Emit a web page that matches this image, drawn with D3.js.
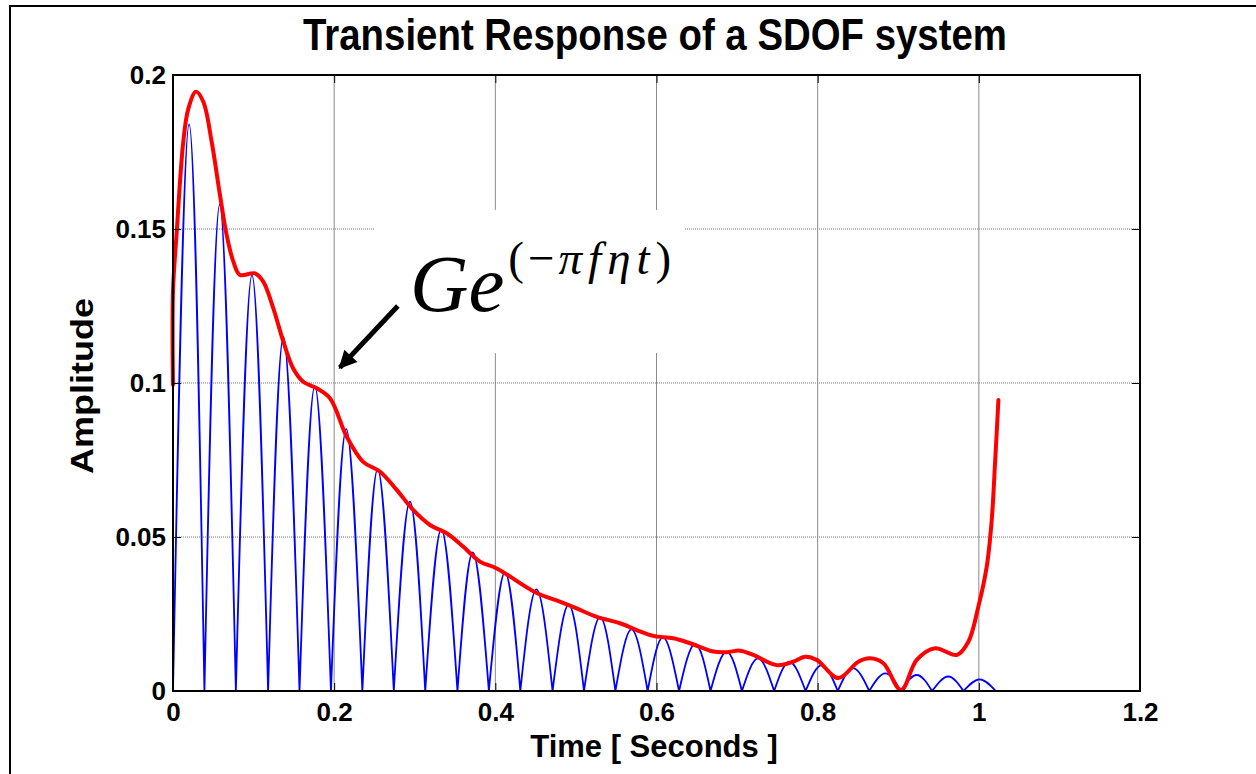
<!DOCTYPE html>
<html>
<head>
<meta charset="utf-8">
<script src="https://cdn.jsdelivr.net/npm/d3@7"></script>
<style>
  body { margin: 0; background: #fff; }
  svg { display: block; }
  .tick text { font-family: "Liberation Sans", Arial, sans-serif; font-weight: bold; font-size: 26px; fill: #000; }
</style>
</head>
<body>
<div id="chart"></div>
<script>
// values

// x / y axis ticks
var xTicks = [0, 0.2, 0.4, 0.6, 0.8, 1, 1.2];
var xTickLabels = ["0", "0.2", "0.4", "0.6", "0.8", "1", "1.2"];
var yTicks = [0, 0.05, 0.1, 0.15, 0.2];
var yTickLabels = ["0", "0.05", "0.1", "0.15", "0.2"];

// blue rectified response: zero crossings, lobe peak times and peak amplitudes
var blueZeros = [0, 0.039, 0.078, 0.118, 0.157, 0.196, 0.235, 0.274, 0.313, 0.353, 0.392, 0.431, 0.471,
                 0.510, 0.549, 0.589, 0.628, 0.667, 0.706, 0.746, 0.785, 0.825, 0.864, 0.903, 0.942, 0.981, 1.021];
var bluePeakT = [0.020, 0.058, 0.098, 0.137, 0.176, 0.215, 0.254, 0.294, 0.333, 0.372, 0.412, 0.451, 0.491,
                 0.530, 0.569, 0.608, 0.648, 0.687, 0.726, 0.765, 0.805, 0.844, 0.884, 0.923, 0.962, 1.001];
var bluePeakA = [0.184, 0.158, 0.135, 0.115, 0.099, 0.085, 0.072, 0.0615, 0.0525, 0.045, 0.0385, 0.033, 0.028,
                 0.024, 0.020, 0.0174, 0.0153, 0.0128, 0.0106, 0.0095, 0.0084, 0.0074, 0.0057, 0.0052, 0.0047, 0.0038];

// red envelope
var redT = [0, 0, 0.0046, 0.0128, 0.019, 0.0285, 0.0376, 0.048, 0.0583, 0.0666, 0.0749, 0.0831, 0.1018, 0.112,
            0.1245, 0.137, 0.149, 0.1617, 0.1783, 0.195, 0.2155, 0.236, 0.257, 0.2776, 0.298, 0.319, 0.3397,
            0.360, 0.381, 0.4017, 0.45, 0.480, 0.501, 0.5258, 0.5547, 0.5754, 0.596, 0.6209, 0.6416, 0.6705,
            0.6872, 0.7037, 0.7202, 0.7492, 0.7698, 0.7843, 0.7988, 0.8257, 0.8505, 0.865, 0.8815, 0.9035,
            0.9229, 0.9456, 0.9726, 0.987, 0.9994, 1.0098, 1.016, 1.0201, 1.0243];
var redA = [0.0994, 0.1297, 0.149, 0.1784, 0.189, 0.1946, 0.1913, 0.1783, 0.161, 0.148, 0.1394, 0.1351, 0.1356, 0.1329,
            0.1242, 0.1134, 0.1048, 0.1004, 0.0983, 0.095, 0.0826, 0.0744, 0.0712, 0.0653, 0.0588, 0.0539, 0.0512,
            0.0469, 0.042, 0.0398, 0.032, 0.029, 0.0268, 0.0241, 0.022, 0.0198, 0.0179, 0.0171, 0.0155, 0.0128,
            0.0126, 0.0131, 0.0117, 0.0084, 0.0095, 0.0111, 0.0101, 0.0042, 0.0095, 0.0106, 0.009, 0.0003,
            0.0101, 0.0139, 0.0117, 0.016, 0.0274, 0.0404, 0.0555, 0.0739, 0.0945];

// annotation (data coordinates)
var arrowFrom = [0.279, 0.125];
var arrowTo = [0.207, 0.105];
var noteAt = [0.294, 0.1234];
var noteBox = [0.2507, 0.6354, 0.1097, 0.1562];

var W = 1256, H = 774;
var svg = d3.select("#chart").append("svg").attr("width", W).attr("height", H);

// figure border
svg.append("rect").attr("x", 10).attr("y", 6).attr("width", 1400).attr("height", 900)
  .attr("fill", "none").attr("stroke", "#000").attr("stroke-width", 2);

var x = d3.scaleLinear().domain([0, 1.2]).range([173, 1140]);
var y = d3.scaleLinear().domain([0, 0.2]).range([691, 75]);

// grid
var grid = svg.append("g");
grid.selectAll("line.vg").data(xTicks.slice(1, -1)).enter().append("line")
  .attr("x1", function(d) { return x(d); }).attr("x2", function(d) { return x(d); })
  .attr("y1", y(0)).attr("y2", y(0.2))
  .attr("stroke", "#8a8a8a").attr("stroke-width", 1);
grid.selectAll("line.hg").data(yTicks.slice(1, -1)).enter().append("line")
  .attr("x1", x(0)).attr("x2", x(1.2))
  .attr("y1", function(d) { return y(d); }).attr("y2", function(d) { return y(d); })
  .attr("stroke", "#777").attr("stroke-width", 1).attr("stroke-dasharray", "1,1");

// white box behind the formula
svg.append("rect")
  .attr("x", x(noteBox[0])).attr("y", y(noteBox[3]))
  .attr("width", x(noteBox[1]) - x(noteBox[0])).attr("height", y(noteBox[2]) - y(noteBox[3]))
  .attr("fill", "#fff");

// blue lobes
var lobeLine = d3.line().x(function(d) { return x(d[0]); }).y(function(d) { return y(d[1]); })
  .curve(d3.curveNatural);
var blueD = bluePeakA.map(function(a, i) {
  return lobeLine([[blueZeros[i], 0], [bluePeakT[i], a], [blueZeros[i + 1], 0]]);
}).join("");
svg.append("path").attr("d", blueD).attr("fill", "none")
  .attr("stroke", "#0000ff").attr("stroke-width", 1.8).attr("stroke-linejoin", "round");

// red envelope
var redLine = d3.line().x(function(d, i) { return x(redT[i]); }).y(function(d) { return y(d); })
  .curve(d3.curveCatmullRom.alpha(0.5));
svg.append("path").attr("d", redLine(redA)).attr("fill", "none")
  .attr("stroke", "#ff0000").attr("stroke-width", 4).attr("stroke-linejoin", "round").attr("stroke-linecap", "round");

// axes: inward ticks on all four sides
svg.append("g").attr("transform", "translate(0," + y(0) + ")")
  .call(d3.axisBottom(x).tickValues(xTicks).tickSizeInner(-8).tickSizeOuter(0).tickPadding(12)
    .tickFormat(function(d, i) { return xTickLabels[i]; }));
svg.append("g").attr("transform", "translate(" + x(0) + ",0)")
  .call(d3.axisLeft(y).tickValues(yTicks).tickSizeInner(-8).tickSizeOuter(0).tickPadding(7)
    .tickFormat(function(d, i) { return yTickLabels[i]; }));
svg.append("g").attr("transform", "translate(0," + y(0.2) + ")")
  .call(d3.axisTop(x).tickValues(xTicks).tickSizeInner(-8).tickSizeOuter(0).tickFormat(""));
svg.append("g").attr("transform", "translate(" + x(1.2) + ",0)")
  .call(d3.axisRight(y).tickValues(yTicks).tickSizeInner(-8).tickSizeOuter(0).tickFormat(""));
svg.selectAll(".domain").remove();
svg.selectAll(".tick line").attr("stroke", "#000").attr("stroke-width", 1);

svg.append("rect").attr("x", x(0)).attr("y", y(0.2))
  .attr("width", x(1.2) - x(0)).attr("height", y(0) - y(0.2))
  .attr("fill", "none").attr("stroke", "#000").attr("stroke-width", 2);

// arrow
svg.append("defs").append("marker").attr("id", "head")
  .attr("viewBox", "0 0 10 10").attr("refX", 9).attr("refY", 5)
  .attr("markerUnits", "userSpaceOnUse").attr("markerWidth", 22).attr("markerHeight", 18)
  .attr("orient", "auto")
  .append("path").attr("d", "M0,0L10,5L0,10Z").attr("fill", "#000");
svg.append("line")
  .attr("x1", x(arrowFrom[0])).attr("y1", y(arrowFrom[1]))
  .attr("x2", x(arrowTo[0])).attr("y2", y(arrowTo[1]))
  .attr("stroke", "#000").attr("stroke-width", 5).attr("marker-end", "url(#head)");

// formula, one text element: G e ^ (-pi f eta t)
var note = svg.append("text").attr("x", x(noteAt[0])).attr("y", y(noteAt[1]))
  .attr("font-family", "'Liberation Serif', 'Times New Roman', serif").attr("fill", "#000");
note.append("tspan").attr("font-size", 81).attr("font-style", "italic").text("Ge");
note.append("tspan").attr("dx", 4).attr("dy", -37).attr("font-size", 47).attr("letter-spacing", 4).text("(\u2212");
note.append("tspan").attr("font-size", 47).attr("font-style", "italic").attr("letter-spacing", 6).text("\u03c0f\u03b7t");
note.append("tspan").attr("font-size", 47).text(")");

// titles
svg.append("text").attr("x", 655).attr("y", 50).attr("text-anchor", "middle")
  .attr("font-family", "'Liberation Sans', Arial, sans-serif").attr("font-weight", "bold").attr("font-size", 44)
  .attr("textLength", 704).attr("lengthAdjust", "spacingAndGlyphs")
  .text("Transient Response of a SDOF system");
svg.append("text").attr("x", 654).attr("y", 757).attr("text-anchor", "middle")
  .attr("font-family", "'Liberation Sans', Arial, sans-serif").attr("font-weight", "bold").attr("font-size", 31)
  .text("Time [ Seconds ]");
svg.append("text").attr("transform", "translate(93,386) rotate(-90)").attr("text-anchor", "middle")
  .attr("font-family", "'Liberation Sans', Arial, sans-serif").attr("font-weight", "bold").attr("font-size", 31)
  .attr("textLength", 176).attr("lengthAdjust", "spacingAndGlyphs")
  .text("Amplitude");
</script>
</body>
</html>
